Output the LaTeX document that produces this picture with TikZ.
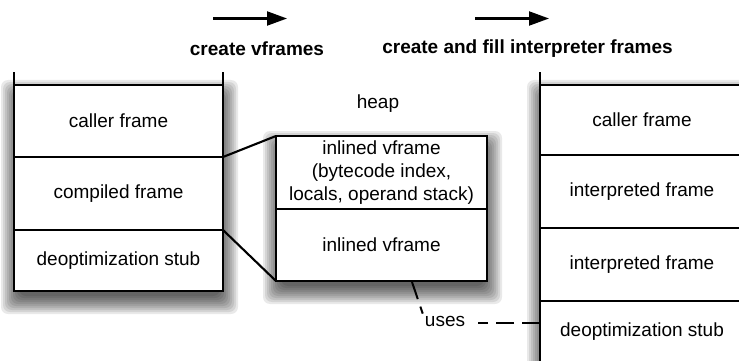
\documentclass[tikz,border=0pt]{standalone}
\usepackage{fontspec}
\setmainfont{Liberation Sans}
\usetikzlibrary{arrows.meta}
\newcommand\dfont{\fontsize{19}{23}\selectfont}
\newcommand\softshadow[4]{%
  \foreach \s in {14,12,...,-4}{%
    \fill[black, fill opacity=0.085, rounded corners=7pt]
      ({#1-\s+1},{#2-\s+9}) rectangle ({#3+\s+1},{#4+\s+9});
  }%
}
\tikzset{
  cell/.style={draw, line width=2.1pt, fill=white, inner sep=0pt, outer sep=0pt, align=center, font=\dfont},
  edge/.style={line width=2.1pt},
  dashedge/.style={line width=2pt, dash pattern=on 18pt off 8pt},
  bigarrow/.style={line width=2.1pt, -{Triangle[length=20pt,width=14pt]}},
  title/.style={font=\dfont\bfseries, inner sep=0pt},
  plain/.style={font=\dfont, inner sep=2pt},
}
\begin{document}
\begin{tikzpicture}[x=1pt,y=-1pt]
\clip (0,0) rectangle (739,361);
\fill[white] (0,0) rectangle (739,361);
% shadows
\softshadow{14}{85}{223}{291}
\softshadow{276}{136}{487}{281}
\softshadow{540}{85}{744}{400}
% arrows and titles
\coordinate (a1s) at (213,18.5);
\coordinate (a1e) at (287,18.5);
\coordinate (a2s) at (475,18.5);
\coordinate (a2e) at (549,18.5);
\draw[bigarrow] (a1s) -- (a1e);
\draw[bigarrow] (a2s) -- (a2e);
\node[title] (t1) at (257,49) {create vframes};
\node[title] (t2) at (527.5,49) {create and fill interpreter frames};
% left stack
\node[cell, minimum width=209pt, minimum height=72pt] (lc1) at (118.5,121) {caller frame};
\node[cell, minimum width=209pt, minimum height=73pt] (lc2) at (118.5,193.5) {compiled frame};
\node[cell, minimum width=209pt, minimum height=61pt] (lc3) at (118.5,260.5) {deoptimization stub};
\draw[edge] (lc1.north west) -- ++(0,-13);
\draw[edge] (lc1.north east) -- ++(0,-13);
% heap
\node[plain] (heap) at (378,104) {heap};
\node[cell, minimum width=211pt, minimum height=73pt] (h1) at (381.5,172.5) {inlined vframe\\(bytecode index,\\locals, operand stack)};
\node[cell, minimum width=211pt, minimum height=72pt] (h2) at (381.5,245) {inlined vframe};
\draw[edge] (lc2.north east) -- (h1.north west);
\draw[edge] (lc3.north east) -- (h2.south west);
% right stack
\node[cell, minimum width=204pt, minimum height=70pt] (rc1) at (642,120) {caller frame};
\node[cell, minimum width=204pt, minimum height=73pt] (rc2) at (642,191.5) {interpreted frame};
\node[cell, minimum width=204pt, minimum height=73pt] (rc3) at (642,264.5) {interpreted frame};
\node[cell, minimum width=204pt, minimum height=62pt] (rc4) at (642,332) {deoptimization stub};
\draw[edge] (rc1.north west) -- ++(0,-13);
% uses
\node[plain] (uses) at (445,321) {uses};
\coordinate (hu) at (412,282);
\draw[dashedge] (hu) -- (uses.north west);
\draw[dashedge, shorten >=11pt] (rc4.west |- 0,323) -- (uses.east |- 0,323);
\end{tikzpicture}
\end{document}
